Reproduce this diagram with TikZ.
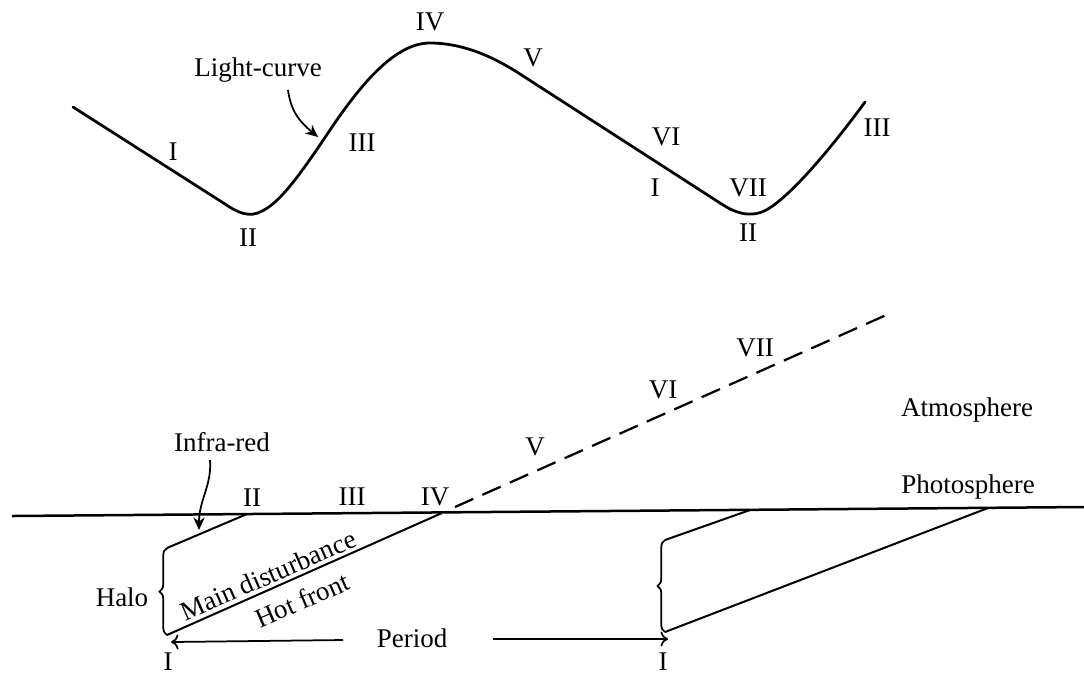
\documentclass[tikz,border=0pt]{standalone}
\usepackage{fontspec}
\setmainfont{Liberation Serif}
\usetikzlibrary{arrows.meta,decorations.pathreplacing}
\begin{document}
\begin{tikzpicture}[x=0.4pt,y=-0.4pt,
  lbl/.style={inner sep=0pt,font=\fontsize{10.8}{13}\selectfont},
  curve/.style={line width=1.1pt,line join=round,line cap=round},
  thinline/.style={line width=0.8pt},
  dashline/.style={line width=0.9pt,dash pattern=on 8pt off 4pt},
  halobrace/.style={line width=0.7pt,decorate,decoration={brace,amplitude=3pt}},
  per/.style={line width=0.7pt,-{To[length=3pt,width=6pt]}},
  ptr/.style={line width=0.7pt,-{Stealth[length=5pt,width=4.5pt]}}]
\useasboundingbox (0,0) rectangle (1084,676);

% ---------- light curve ----------
\draw[curve] (73,107) -- (225,204)
  .. controls (238,213) and (250,218) .. (262,211)
  .. controls (280,203) and (302,172) .. (330,130)
  .. controls (361,84) and (395,43) .. (430,43)
  .. controls (460,43) and (490,54.5) .. (520,74)
  -- (720,203)
  .. controls (735,213) and (748,217) .. (762,212)
  .. controls (785,203) and (830,150) .. (865,102);

\node[lbl] (tI)   at (173,152) {I};
\node[lbl] (tII)  at (248,238) {II};
\node[lbl] (tIII) at (362,143) {III};
\node[lbl] (tIV)  at (430,22)  {IV};
\node[lbl] (tV)   at (533,58)  {V};
\node[lbl] (tVI)  at (666,137) {VI};
\node[lbl] (tIb)  at (655,188) {I};
\node[lbl] (tVII) at (748,188) {VII};
\node[lbl] (tIIb) at (748,233) {II};
\node[lbl] (tIIIb) at (877,128) {III};
\node[lbl] (lc)   at (258,70)  {Light-curve};

\coordinate (lcA) at (288,90);
\coordinate (lcB) at (318,137);
\draw[ptr] (lcA) .. controls (291,112) and (300,122) .. (lcB);

% ---------- lower diagram ----------
\coordinate (pl) at (12,516);
\coordinate (pr) at (1084,507);
\draw[line width=1pt] (pl) -- (pr);

\coordinate (irA) at (247,514);
\coordinate (irB) at (167,548);
\coordinate (mdA) at (167,635);
\coordinate (mdB) at (442,513);
\draw[thinline] (irA) -- (irB);
\draw[thinline] (mdA) -- (mdB);
\draw[halobrace] (mdA) -- (irB);

\coordinate (dA) at (455,507);
\coordinate (dB) at (893,312);
\draw[dashline] (dA) -- (dB);

\coordinate (rirA) at (750,510);
\coordinate (rirB) at (665,540);
\coordinate (rmdA) at (665,632);
\coordinate (rmdB) at (988,508);
\draw[thinline] (rirA) -- (rirB);
\draw[thinline] (rmdA) -- (rmdB);
\draw[halobrace] (rmdA) -- (rirB);

\node[lbl] (ir)   at (222,442) {Infra-red};
\coordinate (irtA) at (210,460);
\coordinate (irtB) at (199,530);
\draw[ptr] (irtA) .. controls (212,485) and (199,500) .. (irtB);

\node[lbl] (bII)  at (252,498) {II};
\node[lbl] (bIII) at (352,497) {III};
\node[lbl] (bIV)  at (435,497) {IV};
\node[lbl] (bV)   at (535,447) {V};
\node[lbl] (bVI)  at (663,390) {VI};
\node[lbl] (bVII) at (755,348) {VII};
\node[lbl] (atm)  at (967,410) {Atmosphere};
\node[lbl] (pho)  at (968,487) {Photosphere};
\node[lbl] (halo) at (122,597) {Halo};
\node[lbl,rotate=23.5] (md) at (268,575) {Main disturbance};
\node[lbl,rotate=23.5] (hf) at (302,600) {Hot front};
\node[lbl] (period) at (412,638) {Period};
\node[lbl] (bI)  at (168,662) {I};
\node[lbl] (bIb) at (663,662) {I};

\coordinate (pL1) at (343,640);
\coordinate (pL2) at (171,642);
\coordinate (pR1) at (493,639);
\coordinate (pR2) at (668,639);
\draw[per] (pL1) -- (pL2);
\draw[per] (pR1) -- (pR2);
\end{tikzpicture}
\end{document}
